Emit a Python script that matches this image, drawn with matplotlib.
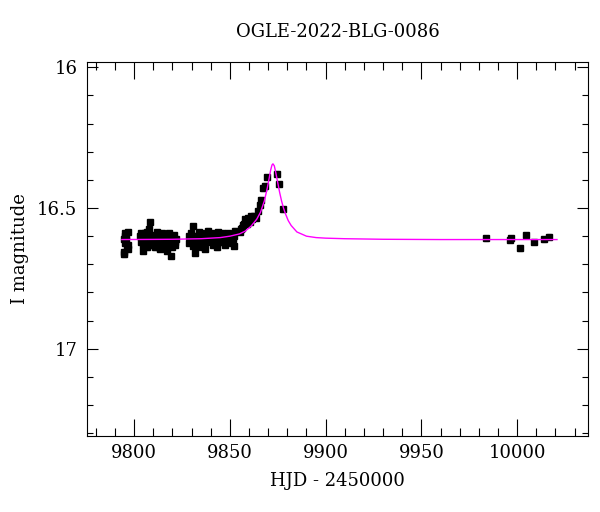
import numpy as np
import matplotlib.pyplot as plt
from matplotlib.ticker import MultipleLocator

# ------------------------------
# OGLE photometry (HJD - 2450000, I mag)
# ------------------------------
hjd = [
    9794.6, 9794.9, 9795.2, 9795.5, 9795.8, 9796.2, 9796.6, 9797.0,
    9794.8, 9795.4, 9796.0, 9796.8,
    9803.3, 9803.8, 9804.4, 9804.9, 9805.5, 9806.0, 9806.6, 9807.1,
    9807.7, 9808.4, 9808.9, 9809.5, 9810.1, 9810.7, 9811.3, 9811.9,
    9812.5, 9813.1, 9813.7, 9814.3, 9814.9, 9815.6, 9816.2, 9817.0,
    9817.7, 9818.4, 9819.1, 9819.7, 9820.4, 9821.1, 9821.8,
    9803.6, 9804.2, 9805.2, 9805.8, 9806.9, 9807.5, 9808.6, 9809.2,
    9810.4, 9811.0, 9812.2, 9812.8, 9814.0, 9814.6, 9815.9, 9816.5,
    9818.0, 9818.8, 9820.0, 9820.8, 9821.5,
    9828.4, 9829.0, 9829.6, 9830.3, 9831.0, 9831.9, 9832.5, 9833.2,
    9833.9, 9834.6, 9835.3, 9836.0, 9836.6, 9837.1, 9837.8, 9838.5,
    9839.2, 9839.9, 9840.6, 9841.3, 9842.0, 9842.6, 9843.2, 9843.9,
    9844.6, 9845.3, 9846.0, 9846.7, 9847.4, 9848.1, 9848.8, 9849.5,
    9850.2, 9850.9, 9851.9, 9852.8,
    9828.7, 9830.0, 9830.7, 9832.2, 9833.6, 9834.9, 9836.3, 9838.1,
    9839.6, 9841.0, 9842.3, 9844.2, 9845.7, 9847.0, 9848.4, 9850.5,
    9851.4, 9852.4,
    9855.5, 9856.5, 9857.5, 9858.5, 9859.5, 9860.5, 9861.5, 9862.5,
    9863.5, 9864.5, 9865.5, 9866.5, 9867.5, 9868.5, 9869.5,
    9856.0, 9857.0, 9858.0, 9859.0, 9860.0, 9861.0,
    9874.5, 9875.5, 9878.0,
    9983.9, 9996.1, 9996.8, 10001.7, 10004.8, 10009.0, 10013.9, 10016.8,
]
imag = [
    16.665, 16.655, 16.590, 16.600, 16.615, 16.640, 16.630, 16.585,
    16.610, 16.625, 16.600, 16.645,
    16.600, 16.620, 16.652, 16.630, 16.590, 16.610, 16.640, 16.600,
    16.575, 16.549, 16.615, 16.630, 16.595, 16.640, 16.605, 16.585,
    16.620, 16.600, 16.645, 16.610, 16.595, 16.625, 16.640, 16.652,
    16.605, 16.590, 16.670, 16.620, 16.600, 16.630, 16.610,
    16.590, 16.605, 16.625, 16.615, 16.585, 16.630, 16.600, 16.615,
    16.610, 16.625, 16.605, 16.640, 16.625, 16.590, 16.605, 16.620,
    16.635, 16.610, 16.640, 16.595, 16.620,
    16.600, 16.615, 16.590, 16.620, 16.563, 16.658, 16.640, 16.600,
    16.585, 16.620, 16.605, 16.640, 16.615, 16.646, 16.595, 16.580,
    16.620, 16.605, 16.590, 16.630, 16.600, 16.615, 16.640, 16.585,
    16.600, 16.620, 16.595, 16.610, 16.630, 16.600, 16.590, 16.615,
    16.600, 16.625, 16.635, 16.580,
    16.625, 16.605, 16.635, 16.600, 16.620, 16.590, 16.625, 16.610,
    16.600, 16.615, 16.625, 16.605, 16.590, 16.620, 16.605, 16.595,
    16.610, 16.600,
    16.585, 16.570, 16.555, 16.545, 16.535, 16.550, 16.540, 16.530,
    16.535, 16.510, 16.490, 16.470, 16.430, 16.420, 16.390,
    16.575, 16.560, 16.540, 16.555, 16.545, 16.530,
    16.378, 16.415, 16.505,
    16.608, 16.614, 16.607, 16.643, 16.595, 16.620, 16.611, 16.602,
]
ierr = [0.008] * len(hjd)

# ------------------------------
# model curve
# ------------------------------
model_t = [
    9793.6, 9820.0, 9835.0, 9845.0, 9850.0, 9855.0, 9858.0, 9861.0,
    9864.0, 9866.0, 9868.0, 9869.5, 9870.5, 9871.3, 9872.0, 9872.5,
    9873.2, 9874.0, 9875.0, 9876.0, 9877.0, 9878.0, 9879.0, 9880.5,
    9882.0, 9885.0, 9890.0, 9895.0, 9900.0, 9910.0, 9930.0, 9960.0,
    10000.0, 10020.8,
]
model_mag = [
    16.612, 16.611, 16.609, 16.605, 16.600, 16.592, 16.582, 16.565,
    16.540, 16.515, 16.475, 16.430, 16.395, 16.365, 16.347, 16.343,
    16.350, 16.375, 16.410, 16.445, 16.475, 16.500, 16.520, 16.545,
    16.562, 16.585, 16.600, 16.605, 16.607, 16.609, 16.611, 16.612,
    16.612, 16.612,
]

plt.rcParams['font.family'] = ['DejaVu Serif']
plt.rcParams['font.size'] = 13

fig = plt.figure(figsize=(6, 5.12), dpi=100)
ax = fig.add_axes([0.145, 0.1484, 0.835, 0.7306])

ax.errorbar(hjd, imag, yerr=ierr, fmt='s', color='black', ms=4.5,
            elinewidth=0.8, capsize=1.5, capthick=0.8, zorder=2)
ax.plot(model_t, model_mag, color='#ff00ff', lw=1.0, zorder=3)

ax.set_xlim(9775.4, 10037)
ax.set_ylim(17.31, 15.981)

ax.xaxis.set_major_locator(MultipleLocator(50))
ax.xaxis.set_minor_locator(MultipleLocator(10))
ax.yaxis.set_major_locator(MultipleLocator(0.5))
ax.yaxis.set_minor_locator(MultipleLocator(0.1))
ax.yaxis.set_major_formatter(plt.FuncFormatter(lambda v, p: f"{v:g}"))

ax.tick_params(which='both', direction='in', top=True, right=True, width=0.8)
ax.tick_params(axis='x', which='major', length=12, pad=6)
ax.tick_params(axis='x', which='minor', length=6)
ax.tick_params(axis='y', which='major', length=8, pad=7)
ax.tick_params(axis='y', which='minor', length=4.5)

ax.set_xlabel("HJD - 2450000", labelpad=7)
ax.set_ylabel("I magnitude", labelpad=6)
ax.set_title("OGLE-2022-BLG-0086", fontsize=13, pad=18)

fig.savefig("out.png", dpi=100)
